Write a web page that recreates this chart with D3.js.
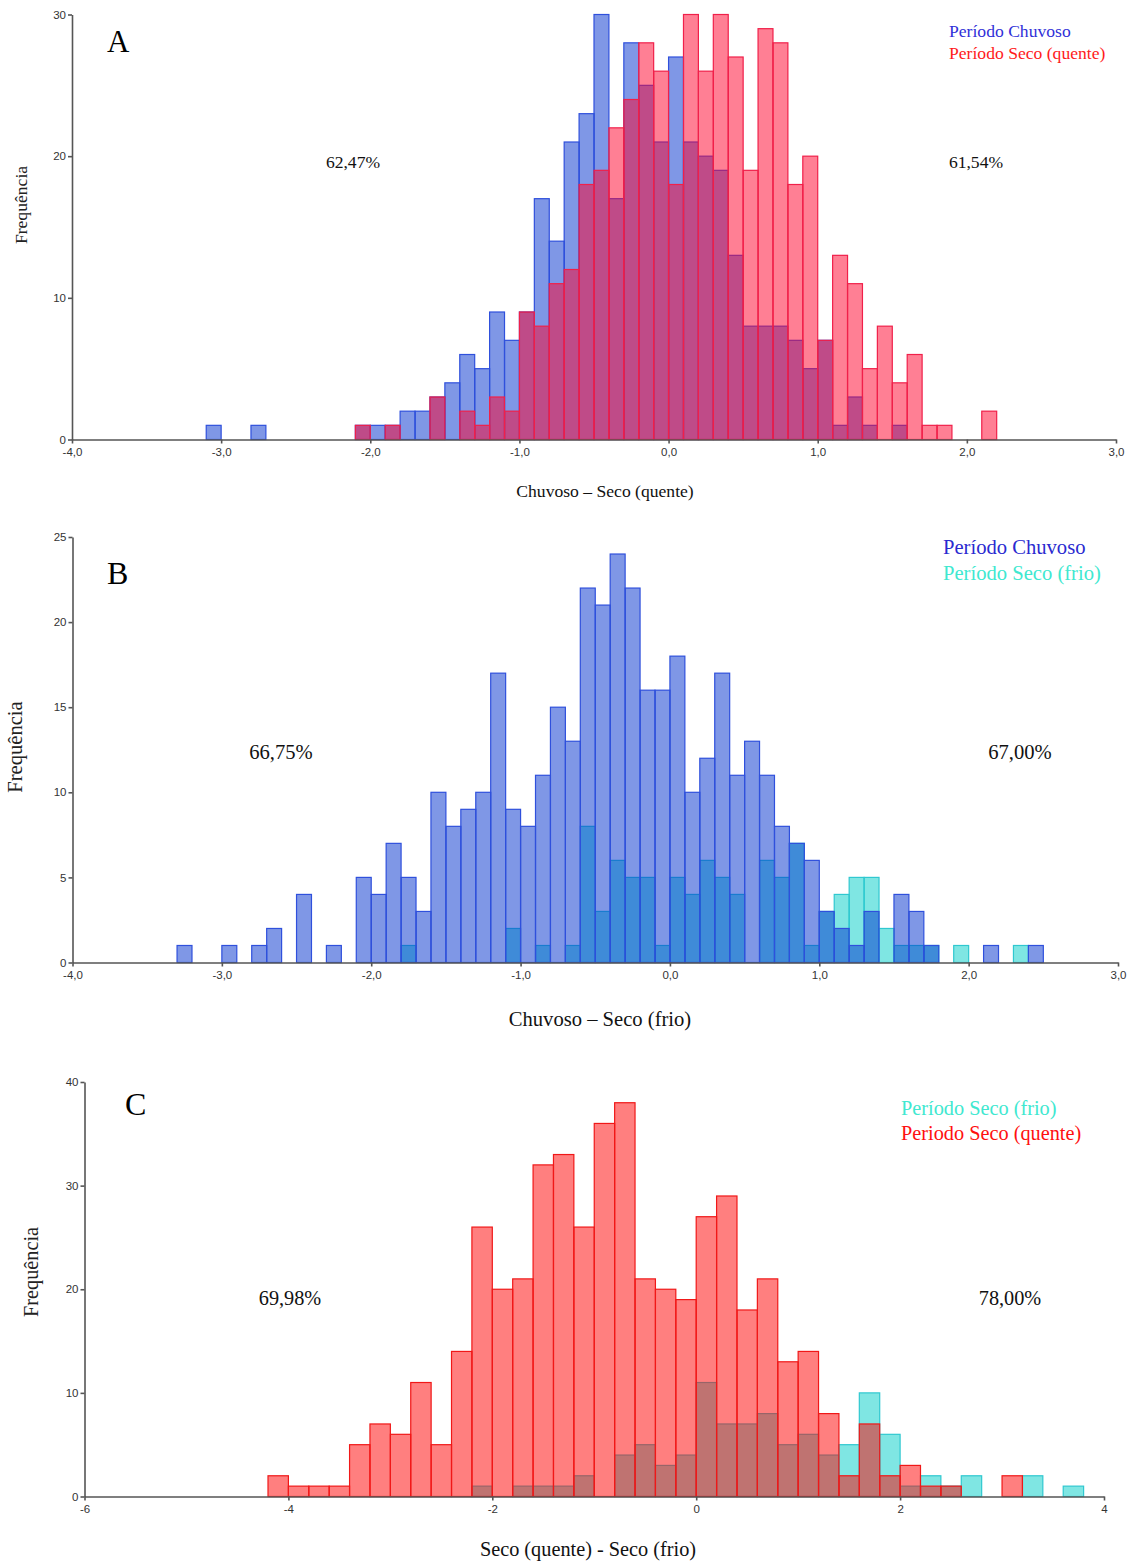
<!DOCTYPE html>
<html>
<head>
<meta charset="utf-8">
<script src="https://cdn.jsdelivr.net/npm/d3@7"></script>
<style>
  html, body { margin: 0; padding: 0; background: #fff; }
  svg { display: block; }
  .tick text { font-family: "Liberation Sans", Arial, sans-serif; font-size: 11.5px; fill: #333; }
  .tick line, .domain { stroke: #555; }
  .serif { font-family: "Liberation Serif", "Times New Roman", serif; }
</style>
</head>
<body>
<svg id="chart" width="1133" height="1561"></svg>
<script>
// ---- Panel A: Chuvoso – Seco (quente), bins of 0.1 ----
const binsA = [-3.1,-3.0,-2.9,-2.8,-2.7,-2.6,-2.5,-2.4,-2.3,-2.2,-2.1,-2.0,-1.9,-1.8,-1.7,-1.6,-1.5,-1.4,-1.3,-1.2,-1.1,-1.0,
  -0.9,-0.8,-0.7,-0.6,-0.5,-0.4,-0.3,-0.2,-0.1,0.0,0.1,0.2,0.3,0.4,0.5,0.6,0.7,0.8,0.9,1.0,1.1,1.2,1.3,1.4,1.5,1.6,1.7,1.8,1.9,2.0,2.1];
const chuvosoA = [1,0,0,1,0,0,0,0,0,0,1,1,1,2,2,3,4,6,5,9,7,9,
  17,14,21,23,30,17,28,25,21,27,21,20,19,13,8,8,8,7,5,7,1,3,1,0,1,0,0,0,0,0,0];
const quenteA  = [0,0,0,0,0,0,0,0,0,0,1,0,1,0,0,3,0,2,1,3,2,9,
  8,11,12,18,19,22,24,28,26,18,30,26,30,27,19,29,28,18,20,7,13,11,5,8,4,6,1,1,0,0,2];
const yTicksA = [0,10,20,30];

// ---- Panel B: Chuvoso – Seco (frio), bins of 0.1 ----
const binsB = [-3.3,-3.2,-3.1,-3.0,-2.9,-2.8,-2.7,-2.6,-2.5,-2.4,-2.3,-2.2,-2.1,-2.0,-1.9,-1.8,-1.7,-1.6,-1.5,-1.4,-1.3,-1.2,-1.1,-1.0,
  -0.9,-0.8,-0.7,-0.6,-0.5,-0.4,-0.3,-0.2,-0.1,0.0,0.1,0.2,0.3,0.4,0.5,0.6,0.7,0.8,0.9,1.0,1.1,1.2,1.3,1.4,1.5,1.6,1.7,1.8,1.9,2.0,2.1,2.2,2.3,2.4];
const chuvosoB = [1,0,0,1,0,1,2,0,4,0,1,0,5,4,7,5,3,10,8,9,10,17,9,8,
  11,15,13,22,21,24,22,16,16,18,10,12,17,11,13,11,8,7,6,3,2,1,3,0,4,3,1,0,0,0,1,0,0,1];
const frioB    = [0,0,0,0,0,0,0,0,0,0,0,0,0,0,0,1,0,0,0,0,0,0,2,0,
  1,0,1,8,3,6,5,5,1,5,4,6,5,4,0,6,5,7,1,3,4,5,5,2,1,1,1,0,1,0,0,0,1,0];
const yTicksB = [0,5,10,15,20,25];

// ---- Panel C: Seco (quente) - Seco (frio), bins of 0.2 ----
const binsC = [-4.2,-4.0,-3.8,-3.6,-3.4,-3.2,-3.0,-2.8,-2.6,-2.4,-2.2,-2.0,-1.8,-1.6,-1.4,-1.2,-1.0,-0.8,-0.6,-0.4,-0.2,
  0.0,0.2,0.4,0.6,0.8,1.0,1.2,1.4,1.6,1.8,2.0,2.2,2.4,2.6,2.8,3.0,3.2,3.4,3.6];
const quenteC = [2,1,1,1,5,7,6,11,5,14,26,20,21,32,33,26,36,38,21,20,19,
  27,29,18,21,13,14,8,2,7,2,3,1,1,0,0,2,0,0,0];
const frioC   = [0,0,0,0,0,0,0,0,0,0,1,0,1,1,1,2,0,4,5,3,4,
  11,7,7,8,5,6,4,5,10,6,1,2,1,2,0,0,2,0,1];
const yTicksC = [0,10,20,30,40];

const xTicksAB = [-4,-3,-2,-1,0,1,2,3];
const xTicksC = [-6,-4,-2,0,2,4];

// fill/stroke pairs for each period
const STYLE = {
  chuvoso: { fill: "rgba(0,47,205,0.5)",  stroke: "#2f50dc" },
  quenteA: { fill: "rgba(255,0,42,0.5)",  stroke: "#f0204a" },
  frio:    { fill: "rgba(0,205,200,0.5)", stroke: "#30c8d0" },
  quenteC: { fill: "rgba(255,0,0,0.5)",   stroke: "#f01818" }
};

const svg = d3.select("#chart");
const fmtComma = d => d.toFixed(1).replace(".", ",").replace("\u2212", "-");
const fmtInt = d => String(d);

function panel(cfg) {
  const g = svg.append("g");
  const x = d3.scaleLinear().domain(cfg.xDomain).range(cfg.xRange);
  const y = d3.scaleLinear().domain([0, cfg.yMax]).range(cfg.yRange);

  // histogram series, back to front
  cfg.series.forEach(s => {
    const rows = cfg.bins.map((b, i) => ({ lo: b, n: s.values[i] })).filter(r => r.n > 0);
    g.append("g").selectAll("rect").data(rows).join("rect")
      .attr("x", r => x(r.lo))
      .attr("width", r => x(r.lo + cfg.binWidth) - x(r.lo))
      .attr("y", r => y(r.n))
      .attr("height", r => y(0) - y(r.n))
      .attr("fill", s.style.fill)
      .attr("stroke", s.style.stroke)
      .attr("stroke-width", 1.2);
  });

  // axes
  g.append("g")
    .attr("transform", `translate(0,${cfg.yRange[0]})`)
    .call(d3.axisBottom(x).tickValues(cfg.xTicks).tickFormat(cfg.xFmt).tickSize(4).tickSizeOuter(0).tickPadding(4))
    .call(a => a.selectAll("path,line").attr("stroke-width", 1.6));
  g.append("g")
    .attr("transform", `translate(${cfg.xRange[0]},0)`)
    .call(d3.axisLeft(y).tickValues(cfg.yTicks).tickSize(4).tickSizeOuter(0).tickPadding(2))
    .call(a => a.selectAll("path,line").attr("stroke-width", 1.6));

  // texts
  const fs = cfg.fontSize;
  g.append("text").attr("class", "serif")
    .attr("x", cfg.letterPos[0]).attr("y", cfg.letterPos[1])
    .attr("font-size", cfg.letterSize).attr("fill", "#000").text(cfg.letter);
  g.append("text").attr("class", "serif")
    .attr("transform", `translate(${cfg.yTitlePos[0]},${cfg.yTitlePos[1]}) rotate(-90)`)
    .attr("text-anchor", "middle").attr("dy", "0.35em")
    .attr("font-size", fs).attr("fill", "#222").text("Frequência");
  g.append("text").attr("class", "serif")
    .attr("x", cfg.xTitlePos[0]).attr("y", cfg.xTitlePos[1])
    .attr("text-anchor", "middle").attr("dy", "0.35em")
    .attr("font-size", fs).attr("fill", "#111").text(cfg.xTitle);
  cfg.percents.forEach(p => {
    g.append("text").attr("class", "serif")
      .attr("x", p.pos[0]).attr("y", p.pos[1])
      .attr("text-anchor", "middle").attr("dy", "0.35em")
      .attr("font-size", fs).attr("fill", "#111").text(p.text);
  });
  cfg.legend.forEach((l, i) => {
    g.append("text").attr("class", "serif")
      .attr("x", cfg.legendPos[0]).attr("y", cfg.legendPos[1] + i * cfg.legendStep)
      .attr("dy", "0.35em")
      .attr("font-size", fs).attr("fill", l.color).text(l.text);
  });
}

panel({
  xDomain: [-4, 3], xRange: [72, 1116], yMax: 30, yRange: [439.5, 14.5],
  bins: binsA, binWidth: 0.1,
  series: [
    { values: chuvosoA, style: STYLE.chuvoso },
    { values: quenteA, style: STYLE.quenteA }
  ],
  xTicks: xTicksAB, xFmt: fmtComma, yTicks: yTicksA,
  fontSize: 17.6, letter: "A", letterSize: 31, letterPos: [107, 52],
  yTitlePos: [21, 205], xTitle: "Chuvoso – Seco (quente)", xTitlePos: [605, 491],
  percents: [{ text: "62,47%", pos: [353, 162] }, { text: "61,54%", pos: [976, 162] }],
  legend: [{ text: "Período Chuvoso", color: "#3030d8" }, { text: "Período Seco (quente)", color: "#ff1a1a" }],
  legendPos: [949, 31], legendStep: 22
});

panel({
  xDomain: [-4, 3], xRange: [72.5, 1118], yMax: 25, yRange: [962.5, 537],
  bins: binsB, binWidth: 0.1,
  series: [
    { values: frioB, style: STYLE.frio },
    { values: chuvosoB, style: STYLE.chuvoso }
  ],
  xTicks: xTicksAB, xFmt: fmtComma, yTicks: yTicksB,
  fontSize: 20.6, letter: "B", letterSize: 32, letterPos: [107, 584],
  yTitlePos: [15, 747], xTitle: "Chuvoso – Seco (frio)", xTitlePos: [600, 1019],
  percents: [{ text: "66,75%", pos: [281, 752] }, { text: "67,00%", pos: [1020, 752] }],
  legend: [{ text: "Período Chuvoso", color: "#2a2ad0" }, { text: "Período Seco (frio)", color: "#40e8d0" }],
  legendPos: [943, 547], legendStep: 26
});

panel({
  xDomain: [-6, 4], xRange: [84.5, 1104], yMax: 40, yRange: [1496.5, 1082],
  bins: binsC, binWidth: 0.2,
  series: [
    { values: frioC, style: STYLE.frio },
    { values: quenteC, style: STYLE.quenteC }
  ],
  xTicks: xTicksC, xFmt: fmtInt, yTicks: yTicksC,
  fontSize: 20.3, letter: "C", letterSize: 32, letterPos: [125, 1115],
  yTitlePos: [31, 1272], xTitle: "Seco (quente) - Seco (frio)", xTitlePos: [588, 1549],
  percents: [{ text: "69,98%", pos: [290, 1298] }, { text: "78,00%", pos: [1010, 1298] }],
  legend: [{ text: "Período Seco (frio)", color: "#40e8d0" }, { text: "Periodo Seco (quente)", color: "#ff1010" }],
  legendPos: [901, 1108], legendStep: 25
});
</script>
</body>
</html>
